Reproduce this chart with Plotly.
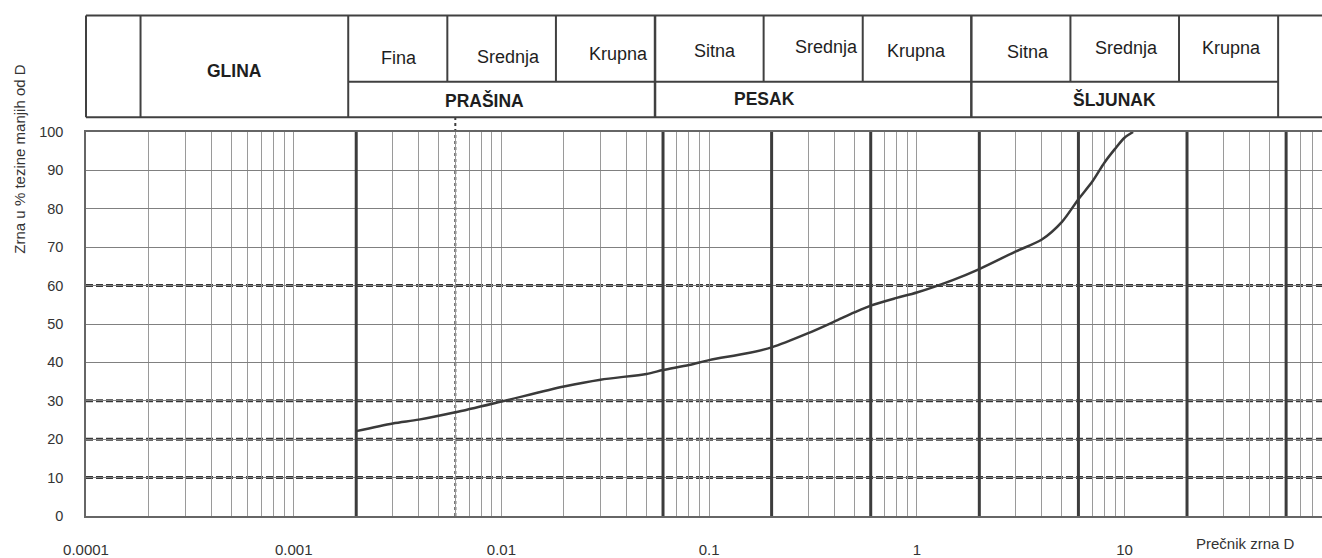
import plotly.graph_objects as go
import math

# ---------------- data ----------------
grain_d = [0.002, 0.003, 0.004, 0.006, 0.01, 0.02, 0.03, 0.05, 0.06, 0.08, 0.1, 0.15,
           0.2, 0.3, 0.4, 0.5, 0.6, 0.8, 1, 1.5, 2, 3, 4, 5, 6, 7, 8, 9, 10, 11]
passing = [22.1, 24.1, 25.1, 27.0, 29.8, 33.7, 35.5, 37.0, 38.0, 39.3, 40.6, 42.3,
           43.9, 47.6, 50.6, 53.0, 54.8, 56.8, 58.2, 61.5, 64.3, 68.9, 72.0, 76.6, 82.5,
           87.1, 92.0, 95.6, 98.5, 100.0]

x_tick_vals = [0.0001, 0.001, 0.01, 0.1, 1, 10]
x_tick_text = ["0.0001", "0.001", "0.01", "0.1", "1", "10"]
y_tick_vals = [0, 10, 20, 30, 40, 50, 60, 70, 80, 90, 100]

boundary_thick = [0.002, 0.06, 0.2, 0.6, 2, 6, 20, 60]
boundary_dotted = [0.006]
dashed_levels = [10, 20, 30, 60]

# header table
group_labels = ["GLINA", "PRAŠINA", "PESAK", "ŠLJUNAK"]
group_bounds = [0.0002, 0.002, 0.06, 2, 60]
sub_labels = ["Fina", "Srednja", "Krupna", "Sitna", "Srednja", "Krupna",
              "Sitna", "Srednja", "Krupna"]
sub_bounds = [0.002, 0.006, 0.02, 0.06, 0.2, 0.6, 2, 6, 20, 60]

y_title = "Zrna u % tezine manjih od D"
x_title = "Prečnik zrna D"

# ---------------- layout geometry (pixels) ----------------
W, H = 1322, 558
L, R, T, B = 86, 0, 132, 37
PW, PH = W - L - R, H - T - B
PX_PER_DEC = 207.7
x_lo = -4.0
x_hi = x_lo + PW / PX_PER_DEC
hdr_shift = 0.0385  # header drawn slightly left of plot scale (scan offset)


def py(p):
    """pixel row -> paper y"""
    return (H - B - p) / PH


HDR_TOP, HDR_SEP, HDR_BOT = 14, 81, 117
sub_y_px = [57, 56, 53, 50, 46, 50, 51, 47, 47]
sub_xshift = [1, 7, 13, 6, 13, -1, 7, 2, 3]
grp_y_px = [70, 100, 99, 99]
grp_xshift = [-10, -17, -49, -10]

FONT = "Liberation Sans, Arial, sans-serif"
DARK = "#3c3c3c"

fig = go.Figure()
fig.add_trace(go.Scatter(
    x=grain_d, y=passing, mode="lines",
    line=dict(color="#3a3a3a", width=2.5, shape="spline", smoothing=0.8),
    hoverinfo="x+y", showlegend=False))

shapes = []
# thick boundary lines
for v in boundary_thick:
    shapes.append(dict(type="line", xref="x", yref="y", x0=v, x1=v, y0=0, y1=100,
                       line=dict(color=DARK, width=3), layer="between"))
for v in boundary_dotted:
    shapes.append(dict(type="line", xref="x", yref="paper", x0=v, x1=v, y0=0, y1=py(HDR_BOT),
                       line=dict(color=DARK, width=2, dash="dot"), layer="between"))
for lv in dashed_levels:
    shapes.append(dict(type="line", xref="paper", yref="y", x0=0, x1=1, y0=lv, y1=lv,
                       line=dict(color="#383838", width=3, dash="7px,3px"), layer="between"))

# header frame
hl = dict(color="#404040", width=2)
shapes.append(dict(type="line", xref="paper", yref="paper", x0=0, x1=1,
                   y0=py(HDR_TOP), y1=py(HDR_TOP), line=hl))
shapes.append(dict(type="line", xref="paper", yref="paper", x0=0, x1=1,
                   y0=py(HDR_BOT), y1=py(HDR_BOT), line=hl))
shapes.append(dict(type="line", xref="paper", yref="paper", x0=0, x1=0,
                   y0=py(HDR_TOP), y1=py(HDR_BOT), line=hl))
shapes.append(dict(type="line", xref="x2", yref="paper", x0=sub_bounds[0], x1=sub_bounds[-1],
                   y0=py(HDR_SEP), y1=py(HDR_SEP), line=hl))
for i, v in enumerate(group_bounds):
    shapes.append(dict(type="line", xref="x2", yref="paper", x0=v, x1=v,
                       y0=py(HDR_TOP), y1=py(HDR_BOT),
                       line=dict(color="#404040", width=2.5 if i in (2, 3) else 2)))
for v in sub_bounds:
    if v in group_bounds:
        continue
    shapes.append(dict(type="line", xref="x2", yref="paper", x0=v, x1=v,
                       y0=py(HDR_TOP), y1=py(HDR_SEP), line=hl))

annotations = []
for i, lab in enumerate(sub_labels):
    c = (math.log10(sub_bounds[i]) + math.log10(sub_bounds[i + 1])) / 2
    annotations.append(dict(text=lab, xref="x2", yref="paper", x=c, y=py(sub_y_px[i]),
                            xshift=sub_xshift[i], showarrow=False, xanchor="center",
                            yanchor="middle", font=dict(family=FONT, size=18, color="#1e1e1e")))
for i, lab in enumerate(group_labels):
    c = (math.log10(group_bounds[i]) + math.log10(group_bounds[i + 1])) / 2
    annotations.append(dict(text="<b>" + lab + "</b>", xref="x2", yref="paper", x=c,
                            y=py(grp_y_px[i]), xshift=grp_xshift[i], showarrow=False,
                            xanchor="center", yanchor="middle",
                            font=dict(family=FONT, size=17.5, color="#1e1e1e")))
annotations.append(dict(text=y_title, xref="paper", yref="paper", x=0, xshift=-66,
                        y=py(160), textangle=-90, showarrow=False, xanchor="center",
                        yanchor="middle", font=dict(family=FONT, size=15, color="#333")))
annotations.append(dict(text=x_title, xref="paper", yref="paper", x=(1245 - L) / PW,
                        y=py(549), showarrow=False, xanchor="center", yanchor="middle",
                        font=dict(family=FONT, size=15, color="#333")))

fig.update_layout(
    width=W, height=H, autosize=False,
    margin=dict(l=L, r=R, t=T, b=B, pad=0),
    paper_bgcolor="white", plot_bgcolor="white",
    showlegend=False,
    xaxis=dict(type="log", range=[x_lo, x_hi], tickmode="array", tickvals=x_tick_vals,
               ticktext=x_tick_text, ticks="", ticklabelstandoff=19,
               tickfont=dict(family=FONT, size=15, color="#333"),
               showgrid=True, gridcolor="#9a9a9a", gridwidth=1,
               minor=dict(dtick="D1", showgrid=True, gridcolor="#9a9a9a", gridwidth=1, ticks=""),
               showline=True, linecolor="#666", linewidth=1.5, mirror=True,
               zeroline=False, fixedrange=True),
    xaxis2=dict(type="log", range=[x_lo + hdr_shift, x_hi + hdr_shift], overlaying="x",
                visible=False, fixedrange=True),
    yaxis=dict(range=[0, 100], tickmode="array", tickvals=y_tick_vals, ticks="",
               ticklabelstandoff=18, tickfont=dict(family=FONT, size=14.5, color="#333"),
               showgrid=True, gridcolor="#808080", gridwidth=1,
               showline=True, linecolor="#666", linewidth=1.5,
               zeroline=False, fixedrange=True),
    shapes=shapes, annotations=annotations,
)

fig.write_html("out.html", config={"displayModeBar": False},
               post_script="document.body.style.margin='0';document.body.style.overflow='hidden';")
